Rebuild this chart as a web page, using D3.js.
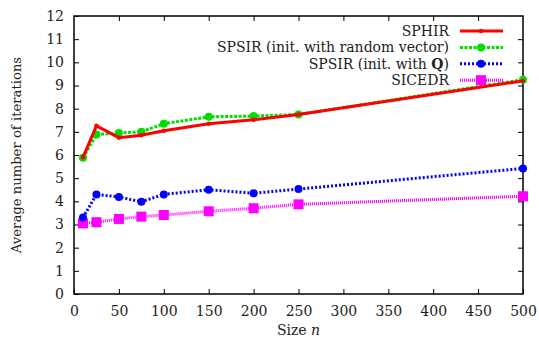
<!DOCTYPE html>
<html>
<head>
<meta charset="utf-8">
<script src="https://cdn.jsdelivr.net/npm/d3@7"></script>
<style>
    body { margin: 0; background: #fff; }
    svg text { font-family: "DejaVu Serif", "Liberation Serif", serif; fill: #222; }
</style>
</head>
<body>
<svg id="chart" width="539" height="340"></svg>
<script>
// matrix sizes n
var sizes = [10, 25, 50, 75, 100, 150, 200, 250, 500];
var sphir = [5.9, 7.26, 6.75, 6.85, 7.05, 7.35, 7.52, 7.75, 9.2];
var spsirRandom = [5.88, 6.88, 6.95, 7.0, 7.35, 7.65, 7.68, 7.75, 9.25];
var spsirQ = [3.3, 4.3, 4.19, 3.98, 4.3, 4.5, 4.35, 4.53, 5.42];
var sicedr = [3.05, 3.1, 3.24, 3.34, 3.41, 3.57, 3.7, 3.87, 4.22];
var xTicks = [0, 50, 100, 150, 200, 250, 300, 350, 400, 450, 500];
var yTicks = [0, 1, 2, 3, 4, 5, 6, 7, 8, 9, 10, 11, 12];

var series = [
    {name: "SPHIR", values: sphir, color: "#ff0000", dash: null, marker: "circle", r: 2.2},
    {name: "SPSIR (init. with random vector)", values: spsirRandom, color: "#00e000", dash: "3,1.5", marker: "circle", r: 4},
    {name: "SPSIR (init. with Q)", values: spsirQ, color: "#0000ff", dash: "2,2", marker: "circle", r: 4},
    {name: "SICEDR", values: sicedr, color: "#ff00ff", dash: "1,1", marker: "square", r: 5}
];

var margin = {top: 16, right: 16, bottom: 46, left: 74};
var width = 539, height = 340;
var svg = d3.select("#chart");

var x = d3.scaleLinear().domain([0, 500]).range([margin.left, width - margin.right]);
var y = d3.scaleLinear().domain([0, 12]).range([height - margin.bottom, margin.top]);

// axes with inward ticks, mirrored
svg.append("g").attr("transform", "translate(0," + y(0) + ")")
    .call(d3.axisBottom(x).tickValues(xTicks).tickSize(-5).tickPadding(12))
    .call(function(g){ g.select(".domain").remove(); });
svg.append("g").attr("transform", "translate(0," + y(12) + ")")
    .call(d3.axisTop(x).tickValues(xTicks.slice(1, -1)).tickSize(-5).tickFormat(""))
    .call(function(g){ g.select(".domain").remove(); });
svg.append("g").attr("transform", "translate(" + x(0) + ",0)")
    .call(d3.axisLeft(y).tickValues(yTicks).tickSize(-5).tickPadding(10))
    .call(function(g){ g.select(".domain").remove(); });
svg.append("g").attr("transform", "translate(" + x(500) + ",0)")
    .call(d3.axisRight(y).tickValues(yTicks.slice(1, -1)).tickSize(-5).tickFormat(""))
    .call(function(g){ g.select(".domain").remove(); });

svg.selectAll(".tick line").attr("stroke", "#000").attr("stroke-width", 1);
svg.selectAll(".tick text").style("font-size", "14px").attr("fill", "#222");

svg.append("rect")
    .attr("x", x(0)).attr("y", y(12))
    .attr("width", x(500) - x(0)).attr("height", y(0) - y(12))
    .attr("fill", "none").attr("stroke", "#000").attr("stroke-width", 1.5);

// axis titles
svg.append("text")
    .attr("x", (x(0) + x(500)) / 2).attr("y", 335)
    .attr("text-anchor", "middle").style("font-size", "14px")
    .html('Size <tspan font-style="italic">n</tspan>');
svg.append("text")
    .attr("transform", "translate(21," + ((y(0) + y(12)) / 2) + ") rotate(-90)")
    .attr("text-anchor", "middle").style("font-size", "13.2px")
    .text("Average number of iterations");

var line = d3.line().x(function(d){ return x(d[0]); }).y(function(d){ return y(d[1]); });

function drawMarker(g, s, cx, cy) {
    if (s.marker == "square") {
        g.append("rect").attr("x", cx - s.r).attr("y", cy - s.r)
            .attr("width", 2 * s.r).attr("height", 2 * s.r).attr("fill", s.color);
    } else {
        g.append("circle").attr("cx", cx).attr("cy", cy).attr("r", s.r).attr("fill", s.color);
    }
}

// draw from last series to first so SPHIR sits on top
series.slice().reverse().forEach(function(s){
    var pts = sizes.map(function(n, i){ return [n, s.values[i]]; });
    var g = svg.append("g");
    g.append("path").attr("d", line(pts))
        .attr("fill", "none").attr("stroke", s.color).attr("stroke-width", 3)
        .attr("stroke-dasharray", s.dash);
    pts.forEach(function(p){ drawMarker(g, s, x(p[0]), y(p[1])); });
});

// legend
var legend = svg.append("g");
series.forEach(function(s, i){
    var ly = 31 + i * 16.4;
    var t = legend.append("text").attr("x", 449).attr("y", ly + 5)
        .attr("text-anchor", "end").style("font-size", "14px");
    if (s.name == "SPSIR (init. with Q)") {
        t.html('SPSIR (init. with <tspan font-weight="bold">Q</tspan>)');
    } else {
        t.text(s.name);
    }
    legend.append("line").attr("x1", 460).attr("x2", 503).attr("y1", ly).attr("y2", ly)
        .attr("stroke", s.color).attr("stroke-width", 3).attr("stroke-dasharray", s.dash);
    drawMarker(legend, s, 481, ly);
});
</script>
</body>
</html>
